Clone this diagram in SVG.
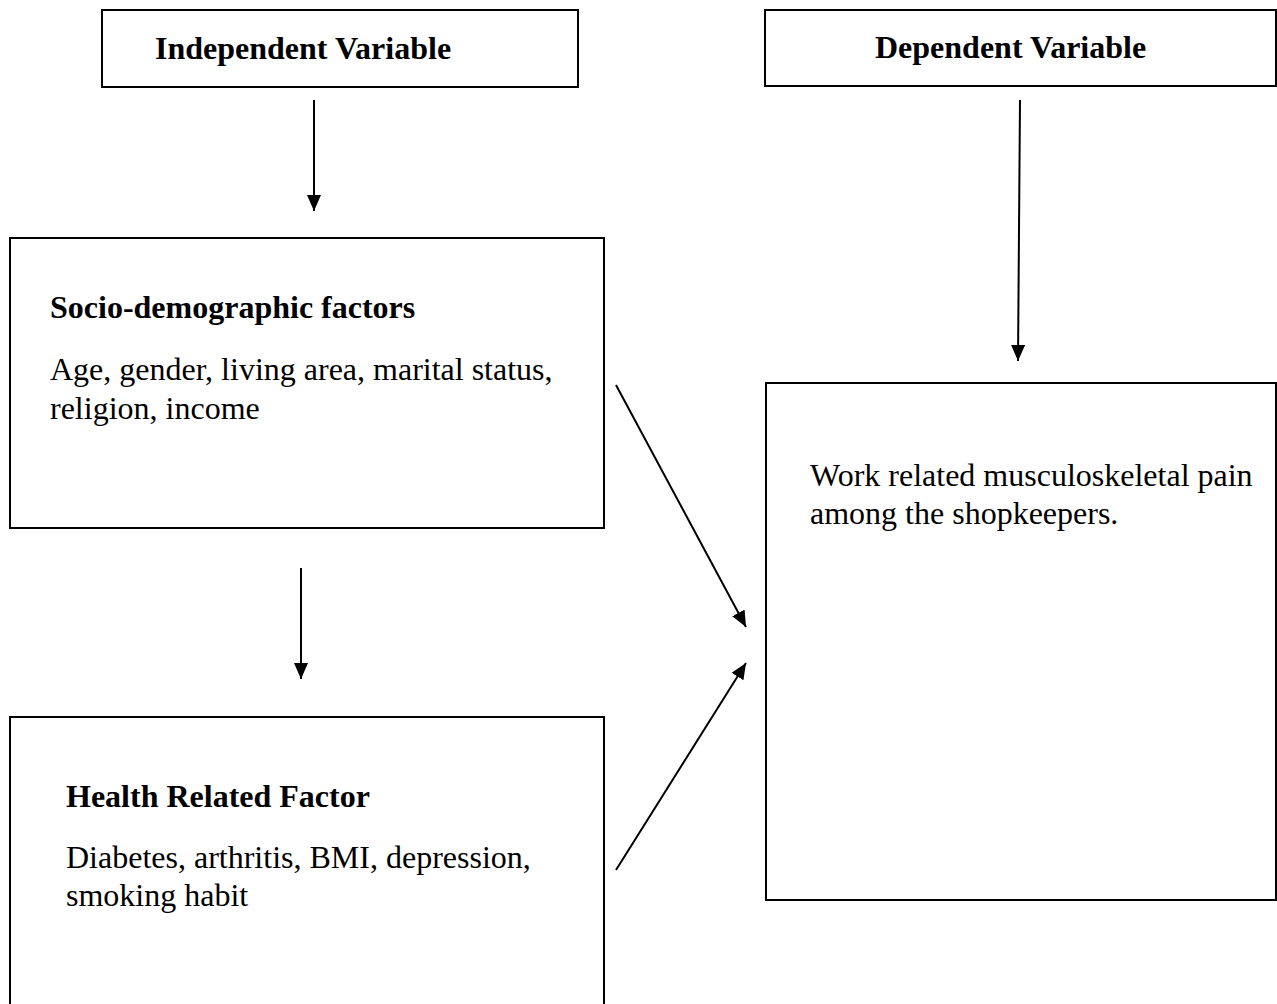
<svg xmlns="http://www.w3.org/2000/svg" width="1277" height="1004" viewBox="0 0 1277 1004">
<style>
.box{fill:#fff;stroke:#000;stroke-width:2}
.t{font-family:"Liberation Serif","Times New Roman",serif;font-size:32px;fill:#000}
.b{font-weight:bold}
.c{stroke:#000;stroke-width:2;fill:none}
</style>
<defs>
<marker id="ah" markerUnits="userSpaceOnUse" markerWidth="16" markerHeight="14" refX="16" refY="7" orient="auto" viewBox="0 0 16 14">
<path d="M0,0 L16,7 L0,14 z" fill="#000"/>
</marker>
</defs>
<rect width="1277" height="1004" fill="#fff"/>
<g id="independent">
<rect class="box" x="102" y="10" width="476" height="77"/>
<text class="t b" x="155" y="59">Independent Variable</text>
</g>
<g id="dependent">
<rect class="box" x="765" y="10" width="511" height="76"/>
<text class="t b" x="875" y="58">Dependent Variable</text>
</g>
<g id="socio">
<rect class="box" x="10" y="238" width="594" height="290"/>
<text class="t b" x="50" y="318">Socio-demographic factors</text>
<text class="t" x="50" y="380">Age, gender, living area, marital status,</text>
<text class="t" x="50" y="419">religion, income</text>
</g>
<g id="health">
<rect class="box" x="10" y="717" width="594" height="300"/>
<text class="t b" x="66" y="807">Health Related Factor</text>
<text class="t" x="66" y="868">Diabetes, arthritis, BMI, depression,</text>
<text class="t" x="66" y="906">smoking habit</text>
</g>
<g id="outcome">
<rect class="box" x="766" y="383" width="510" height="517"/>
<text class="t" x="810" y="486">Work related musculoskeletal pain</text>
<text class="t" x="810" y="524">among the shopkeepers.</text>
</g>
<g id="connectors">
<line class="c" x1="314" y1="100" x2="314" y2="211" marker-end="url(#ah)"/>
<line class="c" x1="1020" y1="100" x2="1018" y2="361" marker-end="url(#ah)"/>
<line class="c" x1="301" y1="568" x2="301" y2="679" marker-end="url(#ah)"/>
<line class="c" x1="616" y1="385" x2="746" y2="627" marker-end="url(#ah)"/>
<line class="c" x1="616" y1="870" x2="746" y2="663" marker-end="url(#ah)"/>
</g>
</svg>
